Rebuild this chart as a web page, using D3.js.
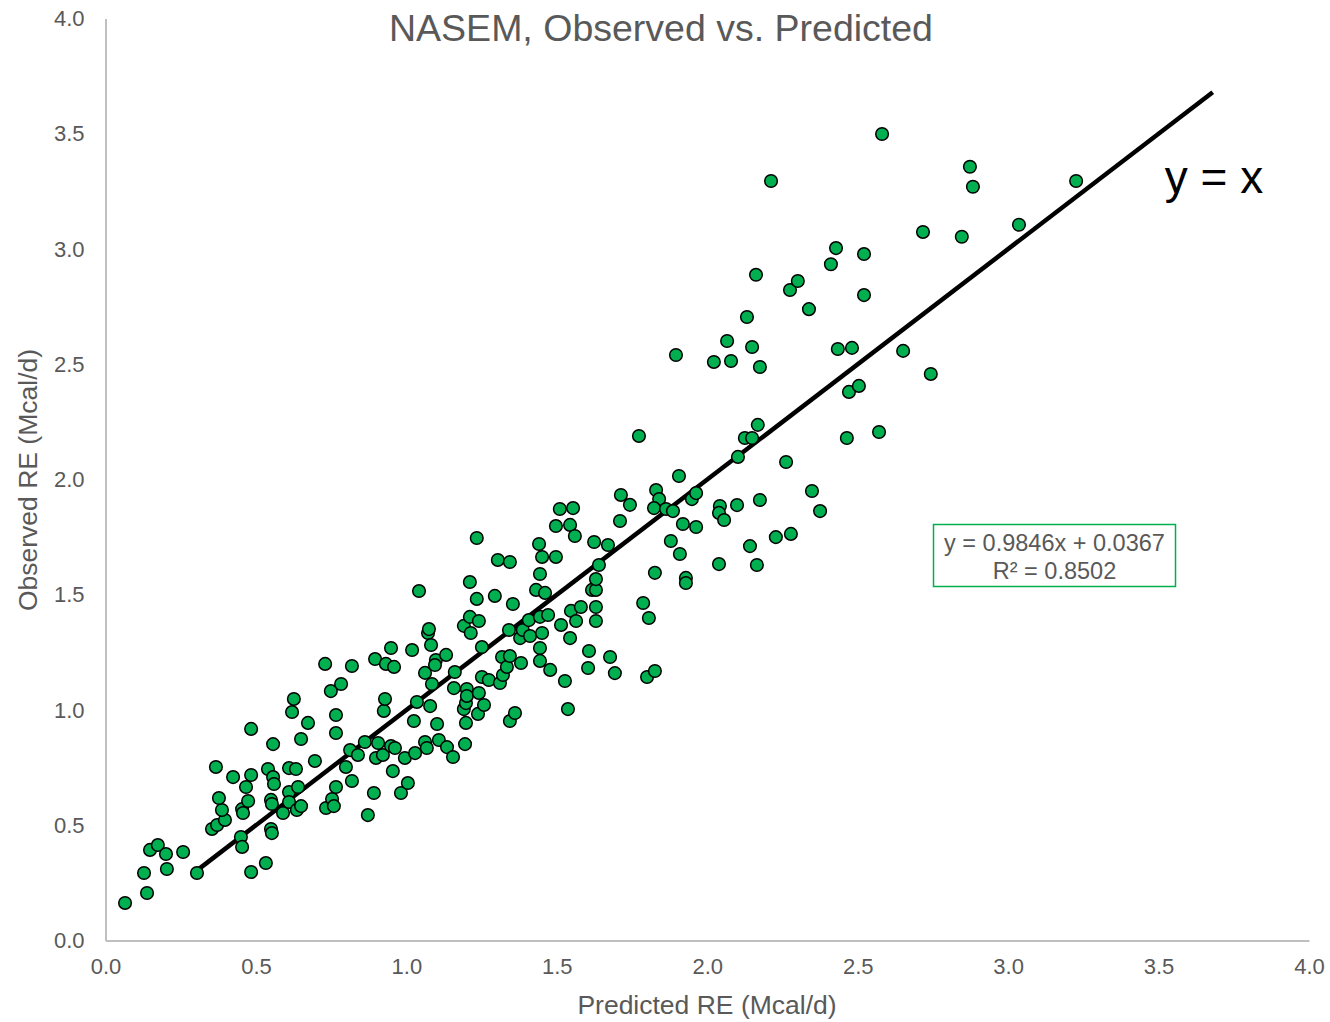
<!DOCTYPE html>
<html><head><meta charset="utf-8">
<script src="https://cdn.jsdelivr.net/npm/d3@7"></script>
<style>body{margin:0;background:#fff;font-family:Arial,"Liberation Sans",sans-serif;}</style>
</head><body>
<svg id="chart" width="1330" height="1022"></svg>
<script>
const title = "NASEM, Observed vs. Predicted";
const xLabel = "Predicted RE (Mcal/d)";
const yLabel = "Observed RE (Mcal/d)";
const xTicks = [0,0.5,1.0,1.5,2.0,2.5,3.0,3.5,4.0];
const yTicks = [0,0.5,1.0,1.5,2.0,2.5,3.0,3.5,4.0];
const identityLine = [0.30, 3.68];
const eqLines = ["y = 0.9846x + 0.0367", "R² = 0.8502"];
const predicted = [0.065,0.138,0.128,0.148,0.174,0.201,0.204,0.258,0.304,0.354,0.371,0.397,0.387,0.377,0.367,0.424,0.450,0.454,0.454,0.457,0.467,0.474,0.484,0.484,0.484,0.533,0.540,0.550,0.550,0.553,0.553,0.557,0.557,0.560,0.590,0.610,0.610,0.610,0.620,0.626,0.633,0.640,0.636,0.650,0.650,0.673,0.696,0.730,0.733,0.749,0.753,0.759,0.766,0.766,0.766,0.783,0.799,0.813,0.819,0.819,0.839,0.862,0.872,0.892,0.896,0.899,0.906,0.922,0.925,0.929,0.932,0.949,0.949,0.955,0.959,0.962,0.982,0.995,1.005,1.019,1.025,1.029,1.035,1.042,1.062,1.062,1.068,1.072,1.075,1.082,1.085,1.079,1.098,1.095,1.102,1.108,1.132,1.135,1.155,1.158,1.161,1.191,1.191,1.195,1.198,1.198,1.201,1.201,1.211,1.211,1.214,1.234,1.234,1.238,1.241,1.241,1.251,1.258,1.251,1.274,1.294,1.304,1.311,1.321,1.318,1.334,1.341,1.344,1.344,1.354,1.344,1.361,1.378,1.381,1.387,1.407,1.411,1.431,1.441,1.444,1.444,1.444,1.444,1.451,1.451,1.461,1.471,1.478,1.497,1.497,1.510,1.514,1.527,1.537,1.544,1.544,1.547,1.554,1.560,1.564,1.580,1.604,1.607,1.617,1.624,1.630,1.630,1.630,1.630,1.640,1.670,1.677,1.693,1.710,1.713,1.743,1.773,1.787,1.806,1.800,1.826,1.826,1.830,1.840,1.823,1.863,1.886,1.879,1.896,1.906,1.909,1.919,1.929,1.929,1.949,1.963,1.963,2.022,2.039,2.042,2.039,2.056,2.066,2.079,2.099,2.102,2.125,2.132,2.142,2.149,2.149,2.162,2.165,2.168,2.175,2.175,2.212,2.228,2.262,2.278,2.275,2.301,2.338,2.348,2.375,2.411,2.428,2.434,2.464,2.471,2.481,2.504,2.521,2.521,2.571,2.581,2.651,2.717,2.743,2.846,2.873,2.883,3.036,3.226];
const observed = [0.163,0.206,0.293,0.393,0.414,0.375,0.310,0.384,0.293,0.484,0.501,0.523,0.566,0.618,0.753,0.709,0.449,0.406,0.570,0.553,0.666,0.605,0.918,0.718,0.297,0.336,0.744,0.610,0.484,0.466,0.592,0.852,0.709,0.679,0.553,0.748,0.644,0.601,0.991,1.048,0.744,0.666,0.566,0.583,0.874,0.944,0.779,1.200,0.575,1.082,0.614,0.583,0.978,0.900,0.666,1.113,0.753,0.826,0.692,1.191,0.805,0.861,0.544,0.640,1.221,0.792,0.857,0.805,0.996,1.048,1.200,1.269,0.844,0.735,1.187,0.835,0.640,0.792,0.683,1.260,0.952,0.813,1.035,1.516,1.161,0.861,0.835,1.334,1.351,1.282,1.113,1.017,1.217,1.195,0.939,0.870,1.239,0.839,0.796,1.095,1.165,1.365,1.004,0.852,1.030,0.944,1.091,1.061,1.555,1.404,1.334,1.746,1.482,0.983,1.074,1.386,1.273,1.022,1.143,1.130,1.495,1.651,1.117,1.152,1.230,1.187,1.347,1.234,1.642,1.460,0.952,0.987,1.312,1.204,1.347,1.390,1.321,1.521,1.720,1.590,1.404,1.269,1.213,1.664,1.334,1.508,1.412,1.174,1.798,1.664,1.872,1.369,1.126,1.004,1.803,1.312,1.430,1.876,1.755,1.386,1.447,1.182,1.256,1.521,1.729,1.521,1.568,1.447,1.386,1.629,1.716,1.230,1.160,1.820,1.933,1.890,2.189,1.464,1.399,1.143,1.169,1.595,1.954,1.915,1.876,1.872,1.863,1.733,2.540,2.015,1.677,1.807,1.573,1.551,1.915,1.941,1.794,2.510,1.633,1.885,1.855,1.824,2.601,2.514,1.889,2.098,2.180,2.705,1.711,2.180,2.575,2.888,1.629,2.237,2.488,1.911,3.295,1.750,2.076,1.764,2.822,2.861,2.739,1.950,1.863,2.934,3.004,2.566,2.180,2.380,2.571,2.406,2.978,2.800,2.206,3.499,2.558,3.074,2.458,3.053,3.357,3.270,3.105,3.295];

const svg = d3.select("#chart");
const x = d3.scaleLinear().domain([0,4]).range([105.5,1309]);
const y = d3.scaleLinear().domain([0,4]).range([940.5,18.5]);
const grey = "#595959";
const ff = "Arial, 'Liberation Sans', sans-serif";

// axes
const xAxis = svg.append("g").attr("transform","translate(0,940.5)")
  .call(d3.axisBottom(x).tickValues(xTicks).tickFormat(d3.format(".1f")).tickSize(0).tickPadding(18));
xAxis.select(".domain").attr("stroke","#BFBFBF").attr("stroke-width",2);
xAxis.selectAll("text").attr("fill",grey).style("font-size","22px").style("font-family",ff);

const yAxis = svg.append("g").attr("transform","translate(105.5,0)")
  .call(d3.axisLeft(y).tickValues(yTicks).tickFormat(d3.format(".1f")).tickSize(0).tickPadding(21));
yAxis.select(".domain").attr("stroke","#BFBFBF").attr("stroke-width",2);
yAxis.selectAll("text").attr("fill",grey).style("font-size","22px").style("font-family",ff);

// identity line
svg.append("line")
  .attr("x1",x(identityLine[0])).attr("y1",y(identityLine[0]))
  .attr("x2",x(identityLine[1])).attr("y2",y(identityLine[1]))
  .attr("stroke","#000").attr("stroke-width",4.5);

// points
const data = predicted.map((p,i)=>({p, o: observed[i]}));
svg.append("g").selectAll("circle").data(data).join("circle")
  .attr("cx",d=>x(d.p)).attr("cy",d=>y(d.o)).attr("r",6.3)
  .attr("fill","#00B050").attr("stroke","#000").attr("stroke-width",1.5);

// title
svg.append("text").attr("x",661).attr("y",41).attr("text-anchor","middle")
  .attr("fill",grey).style("font-size","37.5px").text(title);

// axis titles
svg.append("text").attr("x",707).attr("y",1014).attr("text-anchor","middle")
  .attr("fill",grey).style("font-size","26.5px").text(xLabel);
svg.append("text").attr("transform","translate(37,480) rotate(-90)").attr("text-anchor","middle")
  .attr("fill",grey).style("font-size","26.5px").text(yLabel);

// y = x label
svg.append("text").attr("x",1214).attr("y",193).attr("text-anchor","middle")
  .attr("fill","#000").style("font-size","46px").text("y = x");

// equation box
svg.append("rect").attr("x",933.5).attr("y",524.5).attr("width",242).attr("height",62)
  .attr("fill","#fff").attr("stroke","#00B050").attr("stroke-width",1.5);
svg.append("g").selectAll("text").data(eqLines).join("text")
  .attr("x",1054.5).attr("y",(d,i)=>551+i*28).attr("text-anchor","middle")
  .attr("fill",grey).style("font-size","23.5px").text(d=>d);
</script>
</body></html>
